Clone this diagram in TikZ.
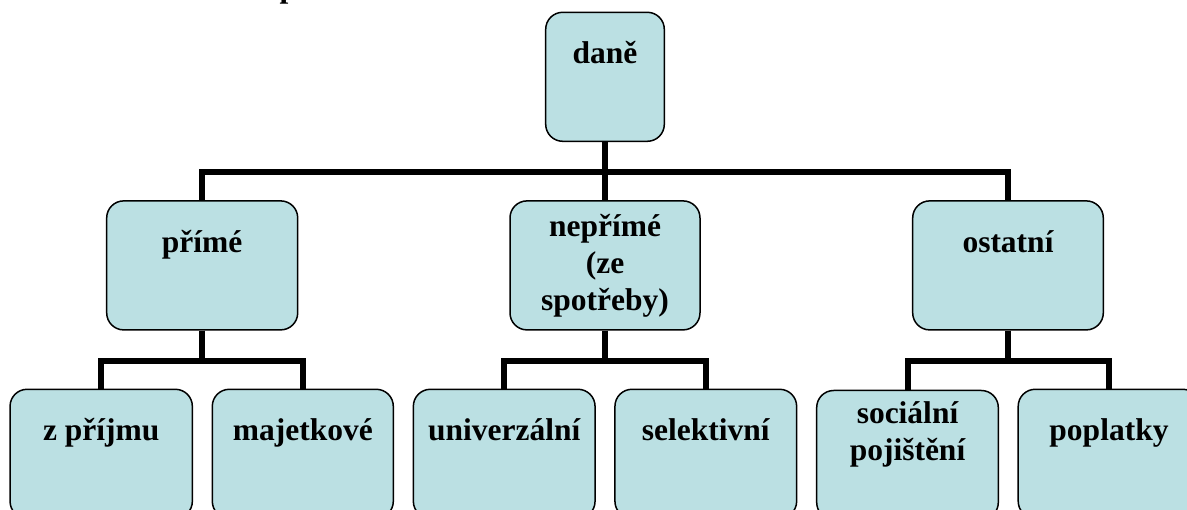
\documentclass[tikz,border=0pt]{standalone}
\usepackage{fontspec}
\setmainfont{Liberation Serif}
\usetikzlibrary{positioning}

\definecolor{boxfill}{RGB}{187,224,227}

\tikzset{
    taxbox/.style={draw=black, line width=1.5pt, fill=boxfill,
        rounded corners=17pt, align=center, inner sep=0pt,
        minimum height=129pt,
        font=\fontsize{31.5}{37}\selectfont\bfseries},
    link/.style={line width=6pt}
}

\begin{document}
\begin{tikzpicture}[x=1pt,y=-1pt]
    \useasboundingbox (0,0) rectangle (1187,510);

    % cut-off title
    \node[anchor=base west, font=\fontsize{31.5}{37}\selectfont\bfseries] (title) at (276,-2) {p};

    % top box
    \node[taxbox, minimum width=118.6pt] (dane) at (605,76.8) {daně\\\strut};

    % middle row
    \node[taxbox, minimum width=191pt] (prime) at (202.2,265.4) {přímé\\\strut};
    \node[taxbox, minimum width=190pt] (neprime) at (605,265.4) {nepřímé\\(ze\\spotřeby)};
    \node[taxbox, minimum width=190.6pt] (ostatni) at (1008,265.4) {ostatní\\\strut};

    % bottom row
    \node[taxbox, minimum width=182.3pt] (zprijmu) at (101.2,453.8) {z příjmu\\\strut};
    \node[taxbox, minimum width=181pt] (majetkove) at (302.8,453.8) {majetkové\\\strut};
    \node[taxbox, minimum width=181.7pt] (univerzalni) at (504.2,453.8) {univerzální\\\strut};
    \node[taxbox, minimum width=181.7pt] (selektivni) at (705.8,453.8) {selektivní\\\strut};
    \node[taxbox, minimum width=181.6pt] (socialni) at (907.5,455) {sociální\\pojištění\\\strut};
    \node[taxbox, minimum width=181.6pt] (poplatky) at (1109,453.8) {poplatky\\\strut};

    % connectors from top box
    \draw[link] (dane.south) -- ++(0,29.7) -| (prime.north);
    \draw[link] (dane.south) -- ++(0,29.7) -| (ostatni.north);
    \draw[link] (dane.south) -- (neprime.north);

    % connectors to bottom row
    \draw[link] (prime.south) -- ++(0,30) -| (zprijmu.north);
    \draw[link] (prime.south) -- ++(0,30) -| (majetkove.north);
    \draw[link] (neprime.south) -- ++(0,30) -| (univerzalni.north);
    \draw[link] (neprime.south) -- ++(0,30) -| (selektivni.north);
    \draw[link] (ostatni.south) -- ++(0,30) -| (socialni.north);
    \draw[link] (ostatni.south) -- ++(0,30) -| (poplatky.north);
\end{tikzpicture}
\end{document}
